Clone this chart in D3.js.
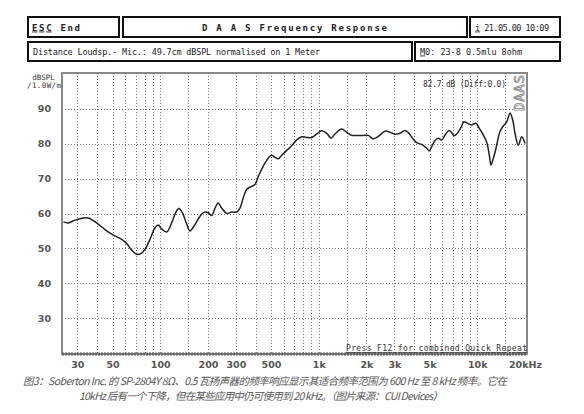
<!DOCTYPE html>
<html>
<head>
<meta charset="utf-8">
<script src="https://cdn.jsdelivr.net/npm/d3@7"></script>
<style>
  body { margin: 0; background: #fff; }
  .mono { font-family: "DejaVu Sans Mono", monospace; }
  .axis text { font-family: "DejaVu Sans", sans-serif; font-size: 9.5px; fill: #555; }
  .axis .domain { display: none; }
  .grid line { stroke: #777; stroke-width: 1; stroke-dasharray: 1,2; shape-rendering: crispEdges; }
</style>
</head>
<body>
<svg width="584" height="414"></svg>
<script>
// measured response (Hz, dB SPL)
const freqHz = [24.5, 26.3, 29.0, 33.5, 35.2, 39.7, 44.8, 50.6, 57.1, 61.4, 66.1, 71.0, 75.6, 80.1,
  86.2, 92.7, 97.2, 102, 110, 118, 125, 131, 138, 147, 154, 166, 178, 190, 201, 211, 222, 232,
  244, 263, 282, 304, 319, 334, 351, 378, 396, 416, 447, 481, 505, 530, 556, 584, 628, 675,
  726, 781, 839, 903, 971, 1044, 1123, 1195, 1266, 1396, 1501, 1614, 1776, 1910, 2055, 2209,
  2376, 2619, 2816, 3028, 3256, 3501, 3674, 3950, 4152, 4463, 4800, 4985, 5161, 5414, 5680,
  5968, 6261, 6633, 6899, 7134, 7484, 7898, 8249, 8653, 9230, 9822, 10300, 10920, 11470,
  11920, 12210, 12630, 13130, 13920, 14600, 15350, 16100, 16740, 17310, 18160, 19080, 20010];
const splDb = [57.6, 57.3, 58.1, 58.8, 58.7, 57.3, 55.4, 53.8, 52.6, 51.4, 49.5, 48.3, 48.5, 49.7,
  52.6, 55.9, 56.7, 55.6, 54.7, 57.3, 60.2, 61.4, 60.2, 56.9, 55.0, 56.9, 59.2, 60.4, 60.2, 59.4, 61.6, 63.0,
  61.6, 60.0, 60.4, 60.4, 61.6, 64.5, 66.9, 67.8, 68.3, 70.7, 73.6, 75.9, 76.7, 76.1, 75.7, 76.7, 78.1, 79.4,
  81.1, 82.0, 81.8, 81.8, 82.8, 83.7, 83.0, 81.6, 82.8, 84.2, 83.3, 82.4, 82.4, 82.4, 82.4, 81.4,
  82.1, 83.6, 83.3, 82.7, 83.0, 83.8, 83.2, 81.3, 80.3, 79.8, 78.7, 78.0, 79.2, 80.9, 81.6,
  81.1, 82.5, 83.8, 83.2, 82.3, 83.0, 84.7, 86.3, 85.9, 85.4, 85.9, 84.4, 82.5, 80.4,
  76.7, 73.9, 75.8, 78.7, 83.5, 85.1, 86.3, 88.8, 86.8, 83.0, 79.6, 82.0, 80.1];

const dbTicks = [30, 40, 50, 60, 70, 80, 90];
const freqTicks = [30, 50, 100, 200, 300, 500, 1000, 2000, 3000, 5000, 10000, 20000];
const freqTickLabels = ["30", "50", "100", "200", "300", "500", "1k", "2k", "3k", "5k", "10k", "20kHz"];
const gridFreqs = [30, 40, 50, 60, 70, 80, 90, 100, 150, 200, 300, 400, 500, 600, 700, 800, 900,
  1000, 1500, 2000, 3000, 4000, 5000, 6000, 7000, 8000, 9000, 10000, 15000];

const svg = d3.select("svg");
const plot = {left: 62, right: 527, top: 73, bottom: 354};

const x = d3.scaleLog().domain([24, 20600]).range([plot.left, plot.right]);
const y = d3.scaleLinear().domain([20, 100]).range([353, 74]);

// header boxes
const boxes = [
  {x0: 28, x1: 119, y0: 17, y1: 37},
  {x0: 123, x1: 467, y0: 17, y1: 37},
  {x0: 470, x1: 560, y0: 17, y1: 37},
  {x0: 28, x1: 412, y0: 42, y1: 61},
  {x0: 415, x1: 560, y0: 42, y1: 61}
];
svg.append("g").selectAll("rect")
  .data(boxes).enter().append("rect")
  .attr("x", d => d.x0).attr("y", d => d.y0)
  .attr("width", d => d.x1 - d.x0).attr("height", d => d.y1 - d.y0)
  .attr("fill", "#fff").attr("stroke", "#111").attr("stroke-width", 2);

const head = svg.append("g").attr("class", "mono").attr("fill", "#222");
head.append("text").attr("x", 32).attr("y", 30.5).attr("font-size", 9).attr("font-weight", "bold")
  .attr("textLength", 48).html('<tspan text-decoration="underline">ESC</tspan> End');
head.append("text").attr("x", 202).attr("y", 30.5).attr("font-size", 9).attr("font-weight", "bold")
  .attr("textLength", 185).text("D A A S  Frequency Response");
head.append("text").attr("x", 475).attr("y", 30.5).attr("font-size", 8.5)
  .attr("textLength", 74).html('<tspan text-decoration="underline">i</tspan> 21.05.00 10:09');
head.append("text").attr("x", 33).attr("y", 54.5).attr("font-size", 8.5)
  .attr("textLength", 287).text("Distance Loudsp.- Mic.: 49.7cm dBSPL normalised on 1 Meter");
head.append("text").attr("x", 420).attr("y", 54.5).attr("font-size", 8.5)
  .attr("textLength", 102).html('<tspan text-decoration="underline">M</tspan>0: 23-8 0.5mlu 8ohm');

// grid
const grid = svg.append("g").attr("class", "grid");
grid.selectAll("line.v").data(gridFreqs).enter().append("line")
  .attr("class", "v")
  .attr("x1", d => Math.round(x(d)) + 0.5).attr("x2", d => Math.round(x(d)) + 0.5)
  .attr("y1", plot.top).attr("y2", plot.bottom);
grid.selectAll("line.h").data(dbTicks).enter().append("line")
  .attr("class", "h")
  .attr("x1", plot.left).attr("x2", plot.right)
  .attr("y1", d => Math.round(y(d)) + 0.5).attr("y2", d => Math.round(y(d)) + 0.5);

// frame
svg.append("rect")
  .attr("x", plot.left).attr("y", plot.top)
  .attr("width", plot.right - plot.left).attr("height", plot.bottom - plot.top)
  .attr("fill", "none").attr("stroke", "#888").attr("stroke-width", 2);
svg.append("line")
  .attr("x1", plot.left).attr("x2", plot.right)
  .attr("y1", plot.bottom).attr("y2", plot.bottom)
  .attr("stroke", "#666").attr("stroke-width", 3).attr("stroke-dasharray", "2,1");

// axes
svg.append("g").attr("class", "axis")
  .attr("transform", `translate(${plot.left - 5},0)`)
  .call(d3.axisLeft(y).tickValues(dbTicks).tickSize(0).tickPadding(6))
  .selectAll("text").attr("font-weight", "bold");
svg.append("g").attr("class", "axis")
  .attr("transform", `translate(0,${plot.bottom + 2})`)
  .call(d3.axisBottom(x).tickValues(freqTicks).tickSize(0).tickPadding(5)
    .tickFormat((d, i) => freqTickLabels[i]))
  .selectAll("text").attr("font-weight", "bold");

const ylab = svg.append("g").attr("class", "mono").attr("fill", "#333").attr("font-size", 7.5);
ylab.append("text").attr("x", 43.5).attr("y", 80).attr("text-anchor", "middle").text("dBSPL");
ylab.append("text").attr("x", 44).attr("y", 88).attr("text-anchor", "middle").attr("textLength", 34).text("/1.0W/m");

// response curve
const pts = freqHz.map((f, i) => [f, splDb[i]]);
svg.append("path")
  .datum(pts)
  .attr("fill", "none")
  .attr("stroke", "#222")
  .attr("stroke-width", 1.5)
  .attr("d", d3.line().x(d => x(d[0])).y(d => y(d[1])).curve(d3.curveCatmullRom));

// annotations
svg.append("text").attr("class", "mono").attr("x", 423).attr("y", 87)
  .attr("font-size", 8).attr("fill", "#333").attr("textLength", 83)
  .text("82.7 dB (Diff:0.0)");
svg.append("text").attr("transform", "translate(524,111) rotate(-90)")
  .attr("font-family", "DejaVu Sans Mono, monospace").attr("font-size", 14)
  .attr("fill", "#fff").attr("stroke", "#888").attr("stroke-width", 0.8)
  .attr("textLength", 36).text("DAAS");
svg.append("text").attr("class", "mono").attr("x", 346).attr("y", 351)
  .attr("font-size", 8).attr("fill", "#333").attr("textLength", 181)
  .attr("text-decoration", "underline")
  .text("Press F12 for combined Quick Repeat");

// caption
const cap = svg.append("g")
  .attr("font-family", "'Noto Sans CJK SC', sans-serif")
  .attr("font-size", 10.5).attr("font-style", "italic").attr("fill", "#555");
cap.append("text").attr("x", 23).attr("y", 385).attr("textLength", 484)
  .text("图3：Soberton Inc. 的 SP-2804Y 8Ω、0.5 瓦扬声器的频率响应显示其适合频率范围为 600 Hz 至 8 kHz 频率。它在");
cap.append("text").attr("x", 79).attr("y", 400).attr("textLength", 364)
  .text("10kHz 后有一个下降，但在某些应用中仍可使用到 20 kHz。（图片来源：CUI Devices）");
</script>
</body>
</html>
